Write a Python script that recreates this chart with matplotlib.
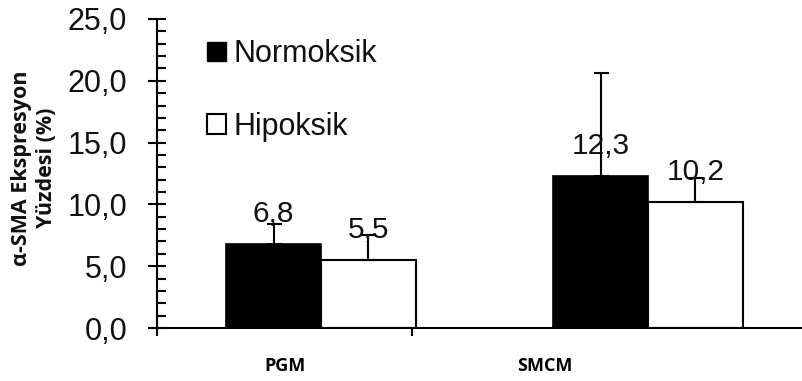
import matplotlib
matplotlib.use("Agg")
import matplotlib.pyplot as plt
from matplotlib.patches import Patch
from matplotlib.ticker import MultipleLocator, FixedLocator, FuncFormatter, NullFormatter

categories = ['PGM', 'SMCM']
series_names = ['Normoksik', 'Hipoksik']
normoksik = [6.8, 12.3]
hipoksik = [5.5, 10.2]
normoksik_err = [1.6, 8.3]
hipoksik_err = [2.0, 1.9]

num_font = 'Liberation Sans'
lbl_font = 'Open Sans'

fig = plt.figure(figsize=(8.03, 3.81), dpi=100)
ax = fig.add_axes([157/803, 53/381, 1 - 157/803, 309/381])

w = 0.29
pos = list(range(len(categories)))
xn = [p - w for p in pos]
xh = [p for p in pos]

ax.bar(xn, normoksik, width=w, align='edge', color='black', edgecolor='black', linewidth=1.2, zorder=2)
ax.bar(xh, hipoksik, width=w, align='edge', color='white', edgecolor='black', linewidth=1.5, zorder=2)

cn = [x + w/2 for x in xn]
ch = [x + w/2 for x in xh]
ax.errorbar(cn, normoksik, yerr=[[0]*len(normoksik), normoksik_err], fmt='none', ecolor='black',
            elinewidth=1.5, capsize=5.4, capthick=1.5, zorder=3)
ax.errorbar(ch, hipoksik, yerr=[[0]*len(hipoksik), hipoksik_err], fmt='none', ecolor='black',
            elinewidth=1.5, capsize=5.4, capthick=1.5, zorder=3)

for xs, vals in ((cn, normoksik), (ch, hipoksik)):
    for x, v in zip(xs, vals):
        ax.annotate(f"{v:.1f}".replace('.', ','), (x, v), xytext=(0, 16), textcoords='offset points',
                    ha='center', va='baseline', fontsize=21.5, family=num_font, color='#111111', zorder=4)

ax.set_ylim(0, 25)
ax.set_xlim(-0.5015, 1.474)

ax.yaxis.set_major_locator(MultipleLocator(5))
ax.yaxis.set_minor_locator(MultipleLocator(1))
ax.yaxis.set_major_formatter(FuncFormatter(lambda v, p: f"{v:.1f}".replace('.', ',')))
ax.tick_params(axis='y', which='major', direction='inout', length=13, width=1.5, pad=15,
               labelsize=22, labelcolor='#111111')
ax.tick_params(axis='y', which='minor', direction='in', length=6.5, width=1.5)
for t in ax.get_yticklabels():
    t.set_family(num_font)

# category labels and boundary ticks
label_pos = [-0.110, 0.685]
ax.xaxis.set_major_locator(FixedLocator(label_pos))
ax.set_xticklabels(categories, family=lbl_font, fontweight='bold', fontsize=13)
ax.xaxis.set_minor_locator(FixedLocator([-0.5015, 0.278]))
ax.xaxis.set_minor_formatter(NullFormatter())
ax.tick_params(axis='x', which='major', length=0, pad=21)
ax.tick_params(axis='x', which='minor', direction='out', length=6, width=1.5)

for s in ['top', 'right']:
    ax.spines[s].set_visible(False)
ax.spines['left'].set_linewidth(1.5)
ax.spines['bottom'].set_linewidth(1.5)

handles = [Patch(facecolor='black', edgecolor='black'),
           Patch(facecolor='white', edgecolor='black', linewidth=1.5)]
leg = ax.legend(handles, series_names, loc='upper left', bbox_to_anchor=(0.078, 0.935),
                frameon=False, prop={'family': num_font, 'size': 22}, handlelength=0.6,
                handleheight=0.6, handletextpad=0.25, labelspacing=1.4, borderpad=0, borderaxespad=0)
for t in leg.get_texts():
    t.set_color('#111111')

fig.text(34/803, (381-168)/381, "α-SMA Ekspresyon\nYüzdesi (%)", rotation=90, ha='center', va='center',
         multialignment='center', family=lbl_font, fontweight='bold', fontsize=15.5, linespacing=1.2,
         color='#111111')

fig.savefig('out.png', dpi=100)
